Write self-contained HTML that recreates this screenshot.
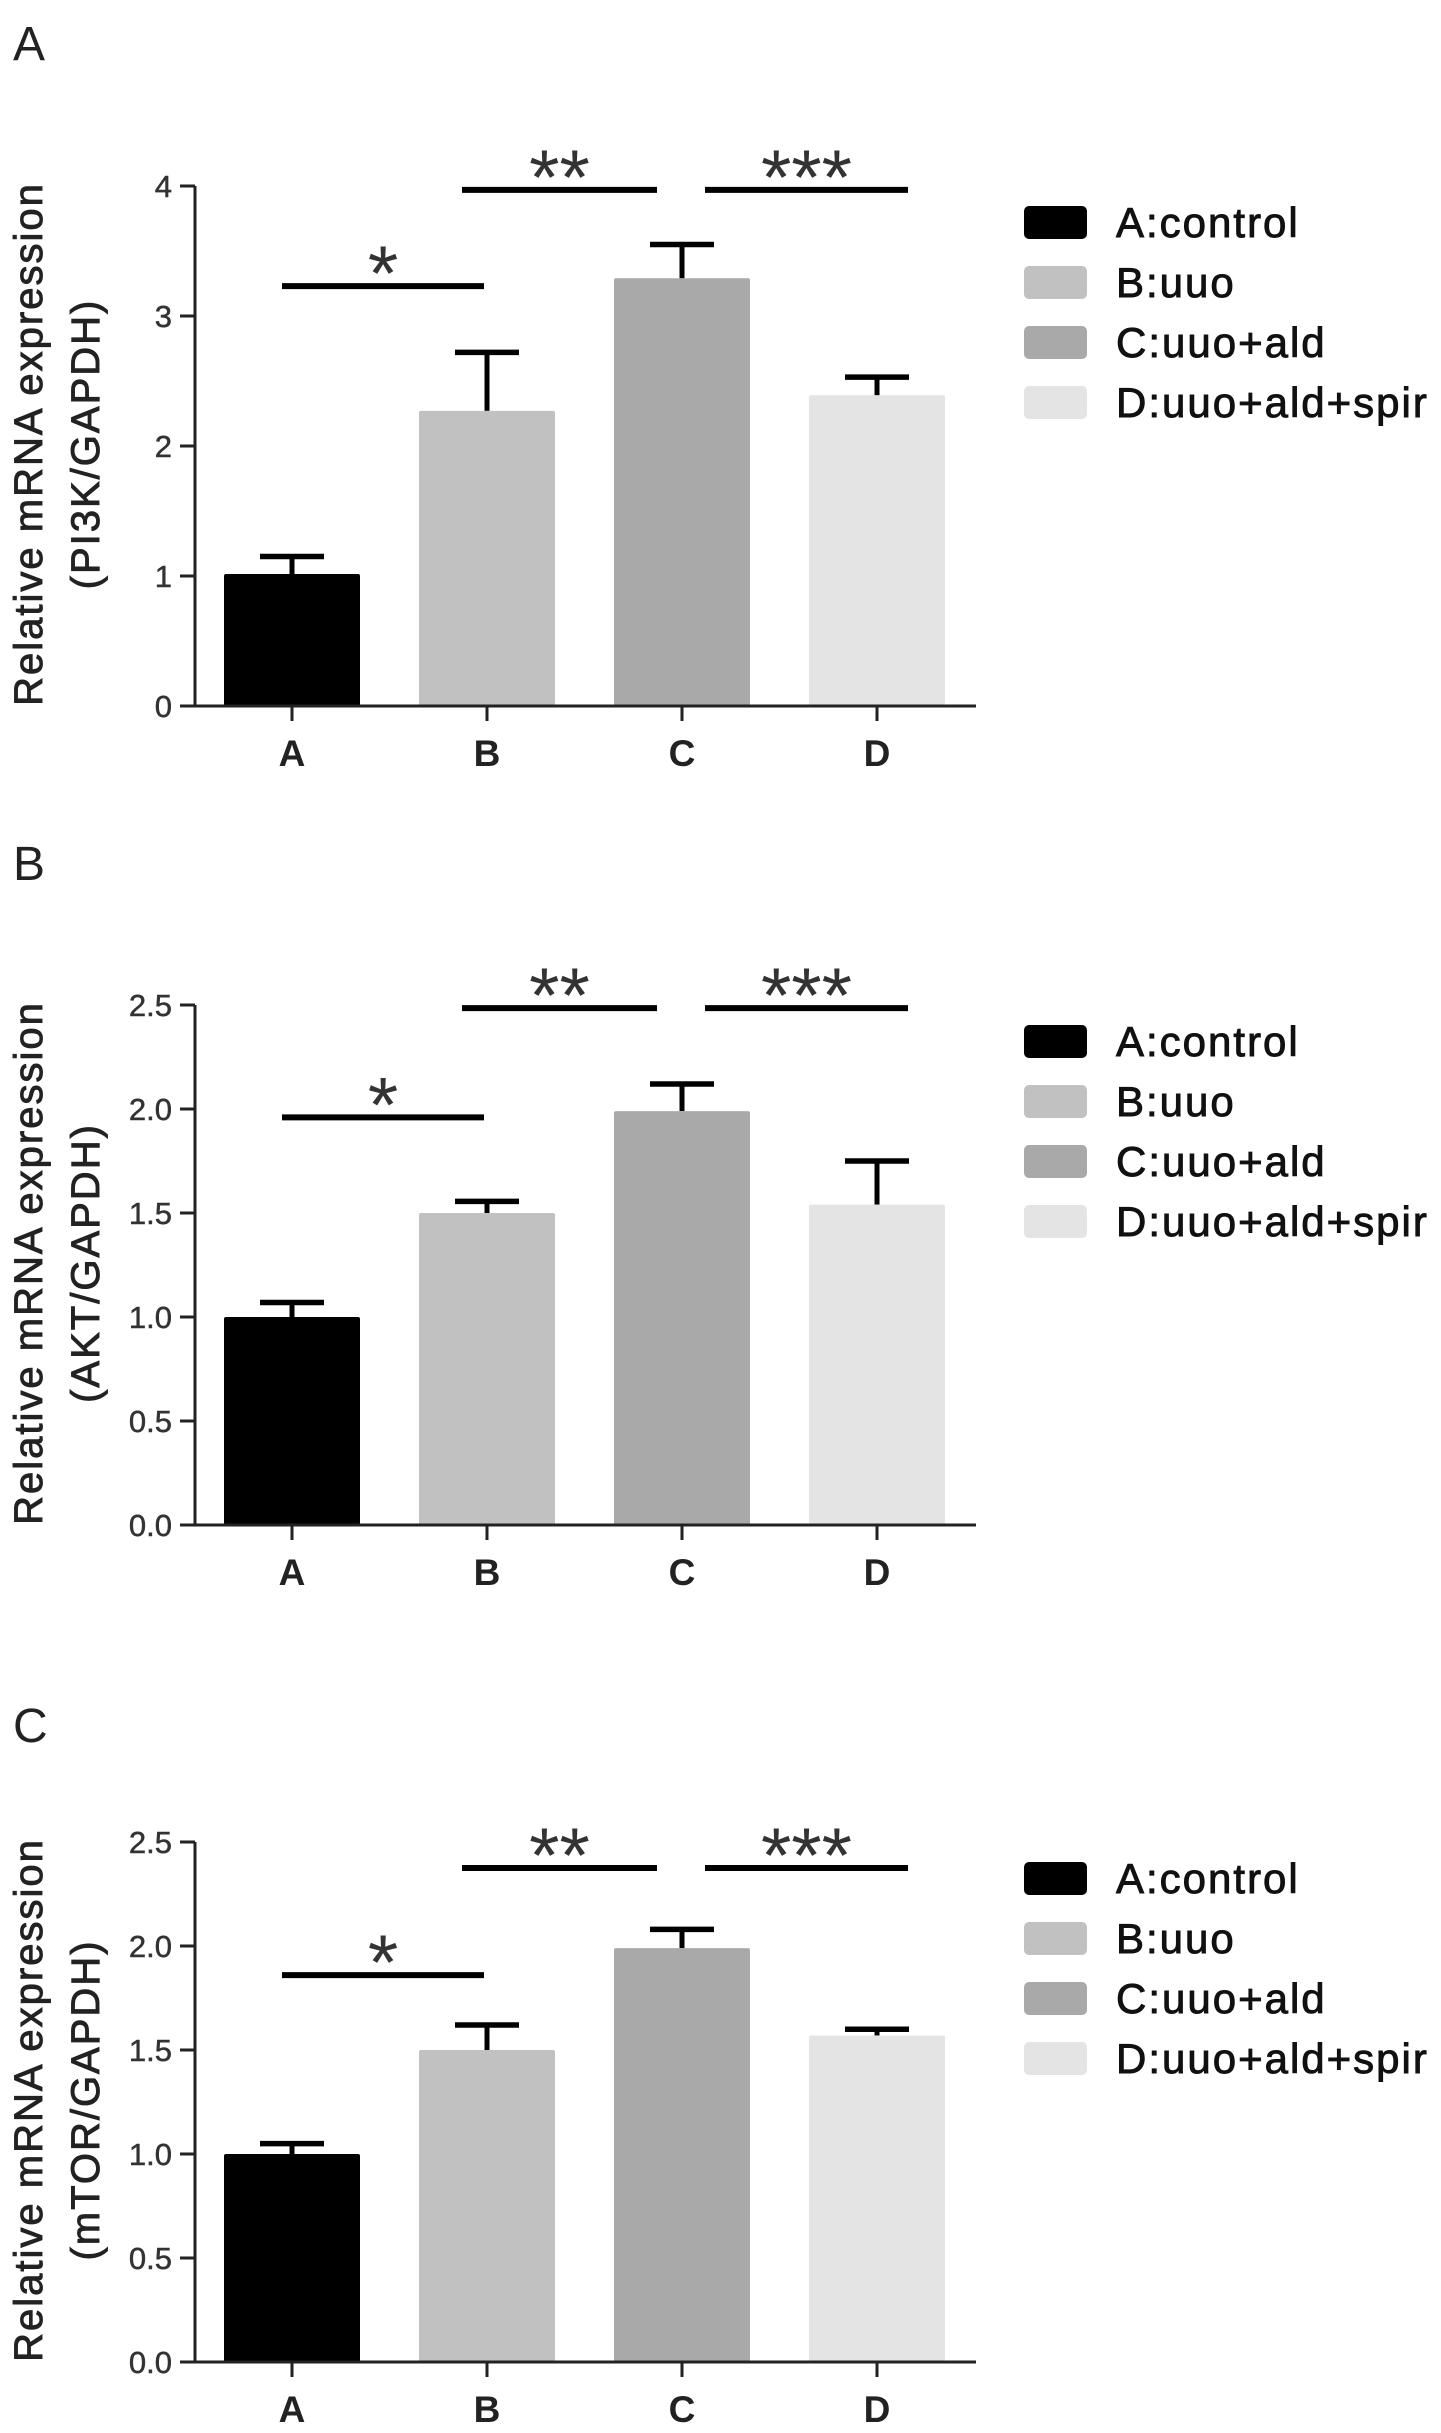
<!DOCTYPE html>
<html><head><meta charset="utf-8"><style>
html,body{margin:0;padding:0;background:#fff;}
svg{display:block;font-family:"Liberation Sans",sans-serif;}
</style></head><body>
<svg id="fig" width="1441" height="2433" viewBox="0 0 1441 2433" xmlns="http://www.w3.org/2000/svg"></svg>
<script>
const categories = ["A","B","C","D"];
const legendLabels = ["A:control","B:uuo","C:uuo+ald","D:uuo+ald+spir"];
const panelNames = ["A","B","C"];
const yTitles = ["(PI3K/GAPDH)","(AKT/GAPDH)","(mTOR/GAPDH)"];
const valuesPI3K = [1.015, 2.27, 3.29, 2.39];
const errorsPI3K = [1.15, 2.72, 3.55, 2.53];
const valuesAKT = [1.0, 1.50, 1.99, 1.54];
const errorsAKT = [1.07, 1.556, 2.12, 1.75];
const valuesMTOR = [1.0, 1.50, 1.99, 1.57];
const errorsMTOR = [1.05, 1.62, 2.08, 1.60];
const ticksPI3K = ["0","1","2","3","4"];
const ticksAKT = ["0.0","0.5","1.0","1.5","2.0","2.5"];
const ticksMTOR = ["0.0","0.5","1.0","1.5","2.0","2.5"];
const sigLabels = ["*","**","***"];
const sigPI3K = [3.23, 3.97, 3.97];
const sigAKT = [1.96, 2.485, 2.485];
const sigMTOR = [1.86, 2.375, 2.375];

const NS = "http://www.w3.org/2000/svg";
const svg = document.getElementById("fig");
const colors = ["#000000","#c1c1c1","#a9a9a9","#e4e4e4"];
function mk(tag, attrs, parent){
  const e = document.createElementNS(NS, tag);
  for (const k in attrs) e.setAttribute(k, attrs[k]);
  (parent||svg).appendChild(e);
  return e;
}
const panels = [
  {y0:706, max:4, vals:valuesPI3K, errs:errorsPI3K, ticks:ticksPI3K, sig:sigPI3K, labelY:60},
  {y0:1525, max:2.5, vals:valuesAKT, errs:errorsAKT, ticks:ticksAKT, sig:sigAKT, labelY:880},
  {y0:2362, max:2.5, vals:valuesMTOR, errs:errorsMTOR, ticks:ticksMTOR, sig:sigMTOR, labelY:1742}
];
const axX = 195, axEnd = 976, plotH = 520;
const xCenter = i => 292 + i*195;
const barW = 136;

panels.forEach((p, pi) => {
  const g = mk("g", {});
  
  
  const yS = v => p.y0 - v / p.max * plotH;

  const pl = mk("text", {x:13, y:p.labelY, "font-size":48, fill:"#222"}, g);
  
  
  pl.textContent = panelNames[pi];

  const yc = p.y0 - 262;
  const t1 = mk("text", {x:0, y:0, "font-size":40, "letter-spacing":2, fill:"#222", stroke:"#222", "stroke-width":0.9, "text-anchor":"middle", transform:`translate(42,${yc}) rotate(-90)`}, g);
  
  
  t1.textContent = "Relative mRNA expression";
  const t2 = mk("text", {x:0, y:0, "font-size":40, "letter-spacing":2, fill:"#222", stroke:"#222", "stroke-width":0.9, "text-anchor":"middle", transform:`translate(99,${yc}) rotate(-90)`}, g);
  
  
  t2.textContent = yTitles[pi];

  p.vals.forEach((v, i) => {
    const cx = xCenter(i);
    const eb = mk("line", {x1:cx, x2:cx, y1:yS(v), y2:yS(p.errs[i]), stroke:"#000", "stroke-width":5}, g);
    
    
    const cap = mk("line", {x1:cx-32, x2:cx+32, y1:yS(p.errs[i]), y2:yS(p.errs[i]), stroke:"#000", "stroke-width":5.5}, g);
    
    
    const r = mk("rect", {x:cx-barW/2, y:yS(v), width:barW, height:p.y0-yS(v), fill:colors[i], rx:2}, g);
    
    
    const tk = mk("line", {x1:cx, x2:cx, y1:p.y0, y2:p.y0+15, stroke:"#222", "stroke-width":3}, g);
    
    
    const xl = mk("text", {x:cx, y:p.y0+60, "font-size":37, "font-weight":"bold", fill:"#222", "text-anchor":"middle"}, g);
    
    
    xl.textContent = categories[i];
  });

  const ya = mk("line", {x1:axX, x2:axX, y1:p.y0+1.5, y2:p.y0-plotH, stroke:"#222", "stroke-width":3}, g);
  
  
  const xa = mk("line", {x1:180, x2:axEnd, y1:p.y0, y2:p.y0, stroke:"#222", "stroke-width":3}, g);
  
  
  p.ticks.forEach((lab) => {
    const v = parseFloat(lab);
    const y = yS(v);
    const tk = mk("line", {x1:180, x2:axX, y1:y, y2:y, stroke:"#222", "stroke-width":3}, g);
    
    
    const tl = mk("text", {x:172, y:y+11, "font-size":31, fill:"#333", stroke:"#333", "stroke-width":0.5, "text-anchor":"end"}, g);
    
    
    tl.textContent = lab;
  });

  sigLabels.forEach((lab, k) => {
    const y = yS(p.sig[k]);
    const xs1 = k===0 ? xCenter(0)-10 : (k===1 ? xCenter(1)-25 : xCenter(2)+23);
    const xs2 = k===0 ? xCenter(1)-3 : (k===1 ? xCenter(2)-25 : xCenter(3)+31);
    const sl = mk("line", {x1:xs1, x2:xs2, y1:y, y2:y, stroke:"#000", "stroke-width":6}, g);
    
    
    const st = mk("text", {x:(xs1+xs2)/2, y:y+14, "font-size":78, fill:"#333", "text-anchor":"middle"}, g);
    
    
    st.textContent = lab;
  });

  legendLabels.forEach((lab, i) => {
    const cy = p.y0 - 484 + i*60;
    const sw = mk("rect", {x:1024, y:cy-16, width:63, height:33, rx:5, fill:colors[i]}, g);
    
    
    const lt = mk("text", {x:1116, y:cy+15, "font-size":42, "letter-spacing":2, fill:"#111", stroke:"#111", "stroke-width":0.9}, g);
    
    
    lt.textContent = lab;
  });
});
</script>
</body></html>
